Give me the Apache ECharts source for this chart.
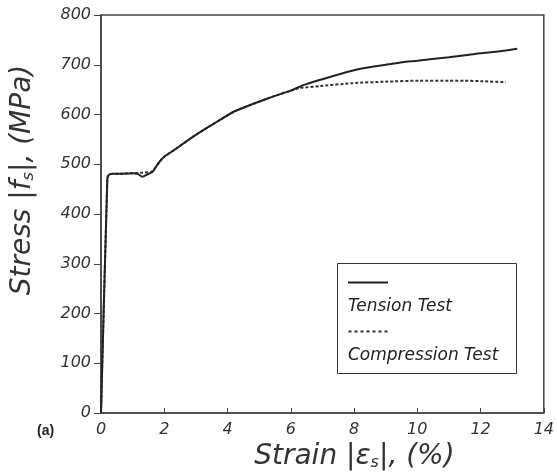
<!DOCTYPE html>
<html>
<head>
<meta charset="utf-8">
<script src="https://cdn.jsdelivr.net/npm/echarts@6/dist/echarts.min.js"></script>
<style>html,body{margin:0;padding:0;background:#fff;}#c{width:557px;height:476px;}</style>
</head>
<body>
<div id="c"></div>
<script>
// Data
var tensionStrain = [0, 0.2, 0.24, 0.35, 0.6, 1.0, 1.15, 1.31, 1.45, 1.63, 1.74, 1.85, 2.0, 2.32, 2.95, 3.58, 4.21, 4.84, 5.48, 6.0, 6.4, 7.0, 7.42, 8.0, 8.48, 9.0, 9.53, 10.0, 10.4, 11.0, 11.64, 12.0, 12.6, 13.16];
var tensionStress = [0, 470, 478, 481, 481, 482, 481, 475, 479, 485, 495, 505, 515, 529, 557, 582, 606, 622, 637, 648, 659, 671, 679, 689, 695, 700, 705, 708, 711, 715, 720, 723, 727, 732];
var compStrain = [0, 0.2, 0.24, 0.35, 0.6, 1.0, 1.3, 1.6, 1.74, 1.85, 2.0, 2.32, 2.95, 3.58, 4.21, 4.84, 5.48, 6.0, 6.27, 6.9, 7.95, 9.0, 10.06, 11.0, 11.5, 12.0, 12.8];
var compStress = [0, 470, 478, 481, 481, 482, 483, 485, 495, 505, 515, 529, 557, 582, 606, 622, 637, 648, 653, 657, 663, 666, 668, 668, 668, 667, 665];
var xTicks = [0, 2, 4, 6, 8, 10, 12, 14];
var yTicks = [0, 100, 200, 300, 400, 500, 600, 700, 800];
var seriesNames = ['Tension Test', 'Compression Test'];

function pairs(xs, ys) { return xs.map(function (x, i) { return [x, ys[i]]; }); }

var fontFam = 'DejaVu Sans';
var solidIcon = 'path://M0,0L40,0L40,2L0,2Z';
var dotIcon = 'path://M0,0h3v2h-3z M6,0h3v2h-3z M12,0h3v2h-3z M18,0h3v2h-3z M24,0h3v2h-3z M30,0h3v2h-3z M36,0h3v2h-3z';

var chart = echarts.init(document.getElementById('c'));
chart.setOption({
  animation: false,
  backgroundColor: '#fff',
  grid: { left: 101, right: 12, top: 15, bottom: 63, show: true, borderColor: '#444', borderWidth: 1.5 },
  xAxis: {
    type: 'value', min: xTicks[0], max: xTicks[xTicks.length - 1], interval: 2,
    name: 'Strain |{e|ε}{s|s}|, (%)',
    nameLocation: 'middle', nameGap: 21,
    nameTextStyle: { fontFamily: fontFam, fontStyle: 'italic', fontSize: 28, color: '#333', padding: [0, 0, 0, 64],
      rich: { e: { fontFamily: fontFam, fontStyle: 'italic', fontSize: 28, color: '#333' }, s: { fontFamily: fontFam, fontStyle: 'italic', fontSize: 16, color: '#333', verticalAlign: 'bottom', padding: [12, 0, 0, 0] } } },
    axisLine: { lineStyle: { color: '#444', width: 1.5 } },
    axisTick: { inside: true, length: 5, lineStyle: { color: '#444' } },
    axisLabel: { margin: 9, fontFamily: fontFam, fontStyle: 'italic', fontSize: 16, color: '#333' },
    splitLine: { show: false }
  },
  yAxis: {
    type: 'value', min: yTicks[0], max: yTicks[yTicks.length - 1], interval: 100,
    name: 'Stress |{f|f}{s|s}|, (MPa)',
    nameLocation: 'middle', nameGap: 64, nameRotate: 90,
    nameTextStyle: { fontFamily: fontFam, fontStyle: 'italic', fontSize: 28, color: '#333', padding: [0, 0, 0, 68],
      rich: { f: { fontFamily: fontFam, fontStyle: 'italic', fontSize: 28, color: '#333' }, s: { fontFamily: fontFam, fontStyle: 'italic', fontSize: 16, color: '#333', verticalAlign: 'bottom', padding: [12, 0, 0, 0] } } },
    axisLine: { show: true, lineStyle: { color: '#444', width: 1.5 } },
    axisTick: { show: true, inside: false, length: 7, lineStyle: { color: '#444' } },
    axisLabel: { margin: 10, fontFamily: fontFam, fontStyle: 'italic', fontSize: 16, color: '#333' },
    splitLine: { show: false }
  },
  legend: {
    orient: 'vertical', left: 348, top: 250, padding: 0,
    itemWidth: 40, itemHeight: 2, itemGap: -16,
    formatter: function (name) { return '{a|}\n{b|' + name + '}'; },
    textStyle: { padding: [0, 0, 0, -45], color: '#222',
      rich: { a: { height: 48, lineHeight: 48 }, b: { fontFamily: fontFam, fontStyle: 'italic', fontSize: 17, lineHeight: 17, color: '#222' } } },
    data: [
      { name: seriesNames[0], icon: solidIcon, itemStyle: { color: '#222' } },
      { name: seriesNames[1], icon: dotIcon, itemStyle: { color: '#333' } }
    ]
  },
  graphic: [
    { type: 'rect', shape: { x: 337.5, y: 263.5, width: 179, height: 110 }, style: { fill: 'none', stroke: '#333', lineWidth: 1 }, z: 10 },
    { type: 'text', left: 37, top: 424, style: { text: '(a)', fontFamily: 'Liberation Sans', fontWeight: 'bold', fontSize: 14, fill: '#222' } }
  ],
  series: [
    { name: seriesNames[0], type: 'line', data: pairs(tensionStrain, tensionStress), symbol: 'none', smooth: 0.2,
      lineStyle: { color: '#222', width: 2 }, itemStyle: { color: '#222' }, z: 3 },
    { name: seriesNames[1], type: 'line', data: pairs(compStrain, compStress), symbol: 'none', smooth: 0.2,
      lineStyle: { color: '#333', width: 2, type: [3, 2] }, itemStyle: { color: '#333' }, z: 2 }
  ]
});
</script>
</body>
</html>
